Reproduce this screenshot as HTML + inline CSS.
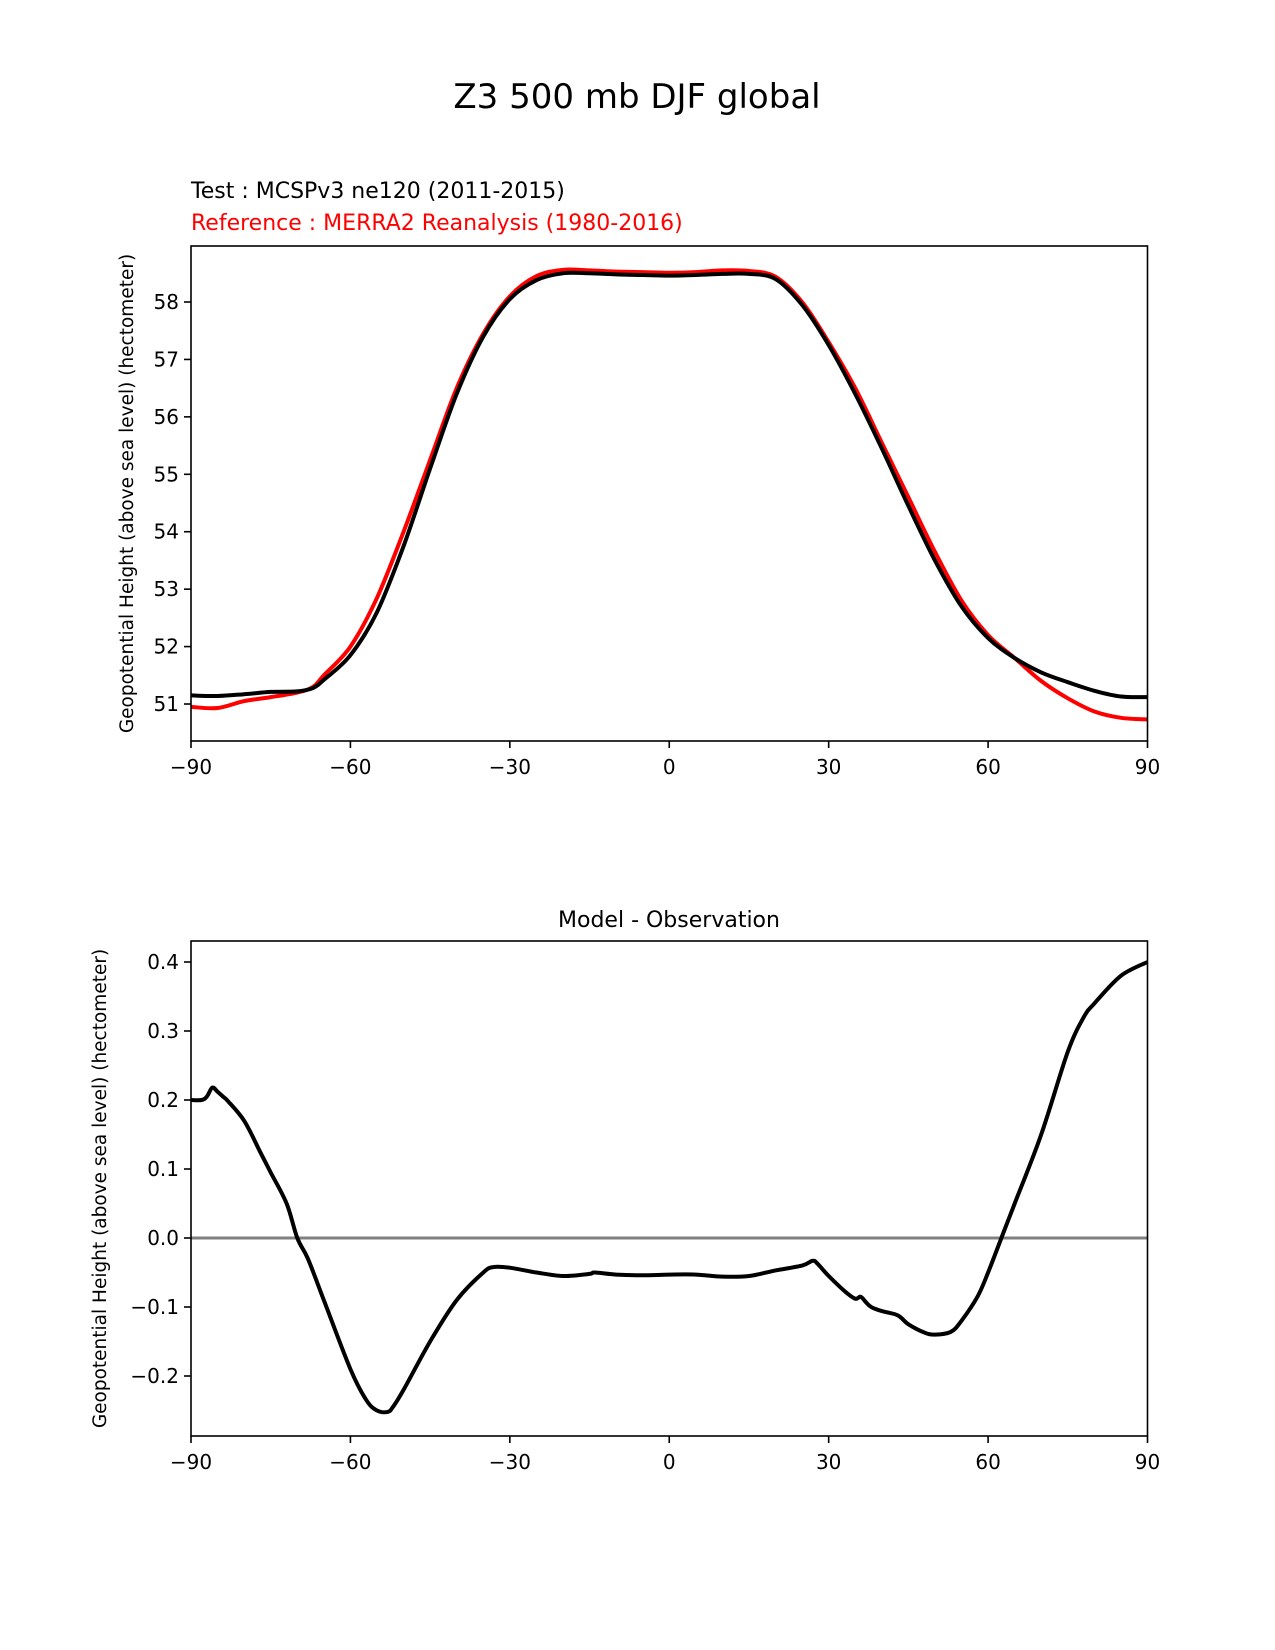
<!DOCTYPE html>
<html><head><meta charset="utf-8"><style>
html,body{margin:0;padding:0;background:#fff;}
svg{display:block;font-family:"DejaVu Sans","Liberation Sans",sans-serif;}
</style></head><body>
<svg id="fig" width="1275" height="1650" viewBox="0 0 1275 1650" xmlns="http://www.w3.org/2000/svg">
<rect width="1275" height="1650" fill="#fff"/>
<text x="637" y="108" font-size="34" text-anchor="middle">Z3 500 mb DJF global</text>
<text x="191" y="198" font-size="22">Test : MCSPv3 ne120 (2011-2015)</text>
<text x="191" y="230" font-size="22" fill="#ff0000">Reference : MERRA2 Reanalysis (1980-2016)</text>
<text x="669" y="927" font-size="22" text-anchor="middle">Model - Observation</text>
<g id="top"></g>
<g id="bot"></g>
</svg>
<script>
const lats = [-90,-85,-80,-75,-70,-67,-65,-60,-55,-50,-45,-40,-35,-30,-25,-20,-15,-10,-5,0,5,10,15,20,25,30,35,40,45,50,55,60,65,70,75,80,85,90];
const testVals = [51.15,51.14,51.17,51.21,51.22,51.28,51.42,51.85,52.6,53.75,55.1,56.4,57.4,58.05,58.38,58.5,58.5,58.48,58.47,58.46,58.47,58.49,58.49,58.4,57.95,57.25,56.4,55.45,54.45,53.5,52.7,52.15,51.8,51.55,51.38,51.23,51.13,51.12];
const refVals = [50.95,50.93,51.05,51.12,51.2,51.3,51.5,52.0,52.85,54.0,55.25,56.5,57.45,58.1,58.45,58.56,58.55,58.53,58.52,58.51,58.52,58.55,58.54,58.44,58.0,57.3,56.5,55.55,54.6,53.65,52.8,52.2,51.8,51.4,51.1,50.87,50.76,50.73];
const diffLats = [-90,-88,-87,-86,-85,-84,-83,-80,-77,-75,-72,-70,-68,-65,-60,-57,-55,-53,-52,-50,-45,-40,-35,-33,-30,-25,-20,-15,-14,-10,-5,0,5,10,15,20,25,27,28,30,33,35,36,37,38,40,43,45,48,50,53,55,58,60,63,65,70,75,78,80,85,90];
const diffVals = [0.20,0.20,0.205,0.218,0.212,0.205,0.198,0.17,0.125,0.095,0.05,0.0,-0.03,-0.09,-0.19,-0.235,-0.25,-0.252,-0.245,-0.22,-0.15,-0.09,-0.05,-0.042,-0.043,-0.05,-0.055,-0.052,-0.05,-0.053,-0.054,-0.053,-0.053,-0.056,-0.055,-0.047,-0.04,-0.033,-0.038,-0.055,-0.077,-0.088,-0.085,-0.093,-0.1,-0.106,-0.112,-0.125,-0.137,-0.14,-0.136,-0.12,-0.085,-0.05,0.01,0.05,0.15,0.27,0.32,0.34,0.38,0.40];
const xTicks = [-90,-60,-30,0,30,60,90];
const topTicks = [51,52,53,54,55,56,57,58];
const botTicks = [-0.2,-0.1,0.0,0.1,0.2,0.3,0.4];
const NS="http://www.w3.org/2000/svg";
const L=191,R=1147.5;
const x=v=>L+(v+90)/180*(R-L);
function mk(p,t,a){const e=document.createElementNS(NS,t);for(const k in a)e.setAttribute(k,a[k]);p.appendChild(e);return e;}
function path(xs,ys,fx,fy){
  const P=xs.map((v,i)=>[fx(v),fy(ys[i])]);
  let d="M"+P[0][0].toFixed(1)+","+P[0][1].toFixed(1);
  for(let i=0;i<P.length-1;i++){
    const p0=P[Math.max(0,i-1)],p1=P[i],p2=P[i+1],p3=P[Math.min(P.length-1,i+2)];
    const c1=[p1[0]+(p2[0]-p0[0])/6,p1[1]+(p2[1]-p0[1])/6];
    const c2=[p2[0]-(p3[0]-p1[0])/6,p2[1]-(p3[1]-p1[1])/6];
    d+="C"+c1.map(n=>n.toFixed(1))+" "+c2.map(n=>n.toFixed(1))+" "+p2.map(n=>n.toFixed(1));
  }
  return d;
}
function axes(g,T,B,y,yt,fmt,ylabelX,xlblY){
  xTicks.forEach(v=>{
    const t=mk(g,"line",{x1:x(v),x2:x(v),y1:B,y2:B+7,stroke:"#000","stroke-width":1.6});
    
    
    const s=mk(g,"text",{x:x(v),y:xlblY,"font-size":20,"text-anchor":"middle"});
    s.textContent=(v<0?"\u2212"+(-v):String(v));
    
    
  });
  yt.forEach(v=>{
    const t=mk(g,"line",{x1:L-7,x2:L,y1:y(v),y2:y(v),stroke:"#000","stroke-width":1.6});
    
    
    const s=mk(g,"text",{x:L-12,y:y(v)+7,"font-size":20,"text-anchor":"end"});
    s.textContent=fmt(v);
    
    
  });
  const yl=mk(g,"text",{x:0,y:0,"font-size":18.5,"text-anchor":"middle",transform:`translate(${ylabelX},${(T+B)/2}) rotate(-90)`});
  yl.textContent="Geopotential Height (above sea level) (hectometer)";
  
  
}
// top chart
(function(){
  const g=document.getElementById("top");
  const T=246,B=741;
  const y=v=>302+(58-v)*57.43;
  const c=mk(g,"path",{d:path(lats,refVals,x,y),fill:"none",stroke:"#ff0000","stroke-width":4,"stroke-linejoin":"round"});
  
  
  const b=mk(g,"path",{d:path(lats,testVals,x,y),fill:"none",stroke:"#000","stroke-width":4,"stroke-linejoin":"round"});
  
  
  const f=mk(g,"rect",{x:L,y:T,width:R-L,height:B-T,fill:"none",stroke:"#000","stroke-width":1.6});
  
  
  axes(g,T,B,y,topTicks,v=>String(v),133,774);
})();
// bottom chart
(function(){
  const g=document.getElementById("bot");
  const T=941,B=1436;
  const y=v=>1238-v*690;
  const z=mk(g,"line",{x1:L,x2:R,y1:y(0),y2:y(0),stroke:"#808080","stroke-width":3});
  
  
  const d=mk(g,"path",{d:path(diffLats,diffVals,x,y),fill:"none",stroke:"#000","stroke-width":4,"stroke-linejoin":"round"});
  
  
  const f=mk(g,"rect",{x:L,y:T,width:R-L,height:B-T,fill:"none",stroke:"#000","stroke-width":1.6});
  
  
  axes(g,T,B,y,botTicks,v=>(v<0?"\u2212":"")+Math.abs(v).toFixed(1),106,1469);
})();
</script>
</body></html>
